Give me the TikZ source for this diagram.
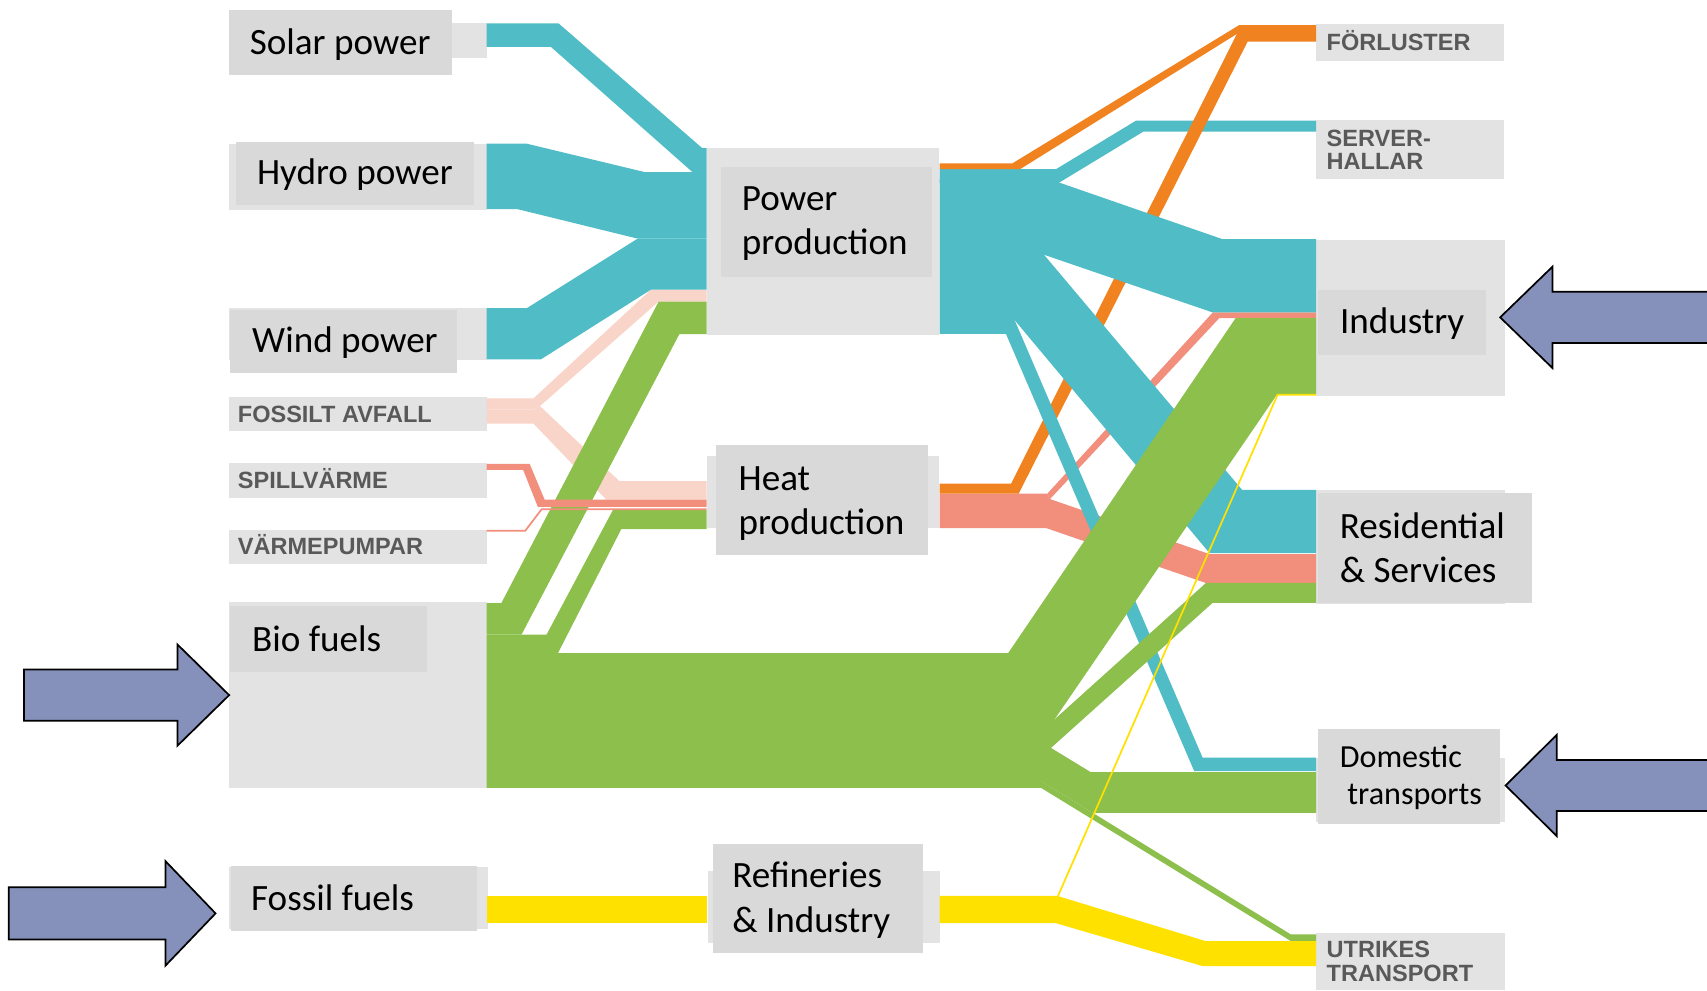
\documentclass[tikz,border=0pt]{standalone}
\usepackage{fontspec}
\setmainfont{Carlito}
\newfontfamily\capsfont{Liberation Sans}
\usetikzlibrary{fit}

\definecolor{elec}{HTML}{4FBCC6}
\definecolor{biogreen}{HTML}{8CBF4B}
\definecolor{lossorange}{HTML}{F08220}
\definecolor{warmsalmon}{HTML}{F28E7C}
\definecolor{wastepink}{HTML}{F9D4C8}
\definecolor{oilyellow}{HTML}{FFE100}
\definecolor{boxlight}{HTML}{E3E3E3}
\definecolor{boxdark}{HTML}{D9D9D9}
\definecolor{capsgray}{HTML}{595959}
\definecolor{arrowfill}{HTML}{8591BA}

\begin{document}
\begin{tikzpicture}[x=0.1mm,y=-0.1mm,
  elecflow/.style={fill=elec},
  bioflow/.style={fill=biogreen},
  lossflow/.style={fill=lossorange},
  warmflow/.style={fill=warmsalmon},
  wasteflow/.style={fill=wastepink},
  oilflow/.style={fill=oilyellow},
  ]
  \useasboundingbox (0,0) rectangle (1568,909.4);
  \clip (0,0) rectangle (1568,909.4);
  \begin{scope}[every node/.style={fill=boxlight,inner sep=0pt}]
    \node[fit={(415,21.4) (447,53.6)}] (padSolar) {};
    \node[fit={(210,132) (447,193)}] (padHydro) {};
    \node[fit={(210,283) (447,330.5)}] (padWind) {};
    \node[fit={(210,365) (447,396)}] (padAvfall) {};
    \node[fit={(210,425) (447,457)}] (padSpill) {};
    \node[fit={(210,486.5) (447,518)}] (padPump) {};
    \node[fit={(210,553) (447,724)}] (padBio) {};
    \node[fit={(210,796) (448,853)}] (padFossil) {};
    \node[fit={(649.3,136) (862.9,307.5)}] (padPower) {};
    \node[fit={(649.3,418.6) (862.9,485)}] (padHeat) {};
    \node[fit={(650,800) (863,866)}] (padRef) {};
    \node[fit={(1208.7,22) (1381.6,55.7)}] (padLoss) {};
    \node[fit={(1208.7,110) (1381.6,164.6)}] (padServer) {};
    \node[fit={(1209,220) (1382,364)}] (padInd) {};
    \node[fit={(1209,450) (1382,555)}] (padRes) {};
    \node[fit={(1209,696) (1382,755)}] (padDom) {};
    \node[fit={(1209,857) (1382,909.4)}] (padAbroad) {};
  \end{scope}
  \begin{scope}[every node/.style={fill=boxdark,inner sep=0pt}]
    \node[fit={(210.8,9.2) (415,68.9)}] (boxSolar) {};
    \node[fit={(217,130) (435,188)}] (boxHydro) {};
    \node[fit={(211,285) (420,343)}] (boxWind) {};
    \node[fit={(211,557) (392,617)}] (boxBio) {};
    \node[fit={(212,795) (438,855)}] (boxFossil) {};
    \node[fit={(661.9,153) (856.2,254)}] (boxPower) {};
    \node[fit={(657.9,408.5) (852.8,509.5)}] (boxHeat) {};
    \node[fit={(655,774.8) (848,875.8)}] (boxRef) {};
    \node[fit={(1211,266) (1365,326)}] (boxInd) {};
    \node[fit={(1211,453) (1407,554)}] (boxRes) {};
    \node[fit={(1211,669.5) (1378,757)}] (boxDom) {};
  \end{scope}
  \fill[wasteflow] (447,366) -- (490,366) -- (598,266) -- (649,266) -- (649,277) -- (605,277) -- (496,373) -- (490,376) -- (447,376) -- cycle;
  \fill[wasteflow] (447,376) -- (490,376) -- (496,373) -- (569,442) -- (649,442) -- (649,459) -- (557,459) -- (490,389) -- (447,389) -- cycle;
  \fill[bioflow] (447,554) -- (460.5,554) -- (605,277) -- (649,277) -- (649,307) -- (624,307) -- (479,583) -- (447,583) -- cycle;
  \fill[bioflow] (447,583) -- (502,583) -- (563,468.5) -- (649,468.5) -- (649,486) -- (570.7,486) -- (512.5,600) -- (447,600) -- cycle;
  \fill[warmflow] (447,426) -- (486.5,426) -- (500.3,459) -- (649,459) -- (649,465.5) -- (494,465.5) -- (480.5,431.5) -- (447,431.5) -- cycle;
  \draw[warmsalmon,line width=0.45pt] (447,487.5) -- (482.5,487.5) -- (497.5,467.8) -- (649,467.8);
  \fill[elecflow] (447,21.4) -- (513,21.4) -- (645,136) -- (649,136) -- (649,158) -- (636,158) -- (506,43) -- (447,43) -- cycle;
  \fill[elecflow] (447,132) -- (484,132) -- (592,158) -- (649,158) -- (649,219) -- (585,219) -- (475,192) -- (447,192) -- cycle;
  \fill[elecflow] (447,283) -- (484,283) -- (586,219) -- (649,219) -- (649,266) -- (598,266) -- (497,330) -- (447,330) -- cycle;
  \fill[warmflow] (863,453.5) -- (962,453.5) -- (964.5,458.4) -- (1111,509) -- (1209,509) -- (1209,535.5) -- (1107.7,535.5) -- (960.8,485) -- (863,485) -- cycle;
  \fill[warmflow] (962,453.5) -- (1114,287) -- (1209,287) -- (1209,292.2) -- (1120,292.2) -- (964.5,458.4) -- cycle;
  \fill[elecflow] (863,155.4) -- (970,155.4) -- (1043.5,110.8) -- (1209,110.8) -- (1209,121) -- (1050,121) -- (973,167.7) -- (863,167.7) -- cycle;
  \fill[lossflow] (863,150) -- (930,150) -- (1138.3,23) -- (1209,23) -- (1209,27.5) -- (1142,27.5) -- (937,155.4) -- (863,155.4) -- cycle;
  \fill[lossflow] (863,444.3) -- (928.7,444.3) -- (1138,27.5) -- (1209,27.5) -- (1209,38.3) -- (1146,38.3) -- (935.7,453.5) -- (863,453.5) -- cycle;
  \fill[elecflow] (863,165) -- (970,165) -- (973,167.7) -- (1123,219.7) -- (1209,219.7) -- (1209,287) -- (1114,287) -- (959,234) -- (863,234) -- cycle;
  \fill[elecflow] (863,234) -- (959,234) -- (1141,450) -- (1209,450) -- (1209,508) -- (1111,508) -- (932,294) -- (863,294) -- cycle;
  \fill[elecflow] (863,294) -- (932,294) -- (1104.7,696) -- (1209,696) -- (1209,708.4) -- (1097,708.4) -- (924,306.6) -- (863,306.6) -- cycle;
  \fill[bioflow] (447,600) -- (926,600) -- (1135,292.2) -- (1209,292.2) -- (1209,361.7) -- (1173.5,361.7) -- (962.7,669.5) -- (447,669.5) -- cycle;
  \fill[bioflow] (447,669.5) -- (959,669.5) -- (1107.7,535.5) -- (1209,535.5) -- (1209,553.8) -- (1113.8,553.8) -- (965.4,687) -- (447,687) -- cycle;
  \fill[bioflow] (447,687) -- (965.4,687) -- (1002,709.3) -- (1209,709.3) -- (1209,746.6) -- (1003.7,746.6) -- (956.3,717.5) -- (447,717.5) -- cycle;
  \fill[bioflow] (447,717.5) -- (956.3,717.5) -- (1185.7,858.3) -- (1209,858.3) -- (1209,864.4) -- (1185.7,864.4) -- (956.3,723.7) -- (447,723.7) -- cycle;
  \fill[oilflow] (447,823) rectangle (649,848);
  \fill[oilflow] (863,823) -- (971.5,823) -- (1107.7,864.5) -- (1209,864.5) -- (1209,887.4) -- (1104.6,887.4) -- (970,848) -- (863,848) -- cycle;
  \draw[oilyellow,line width=0.45pt] (971.5,823.8) -- (1173.5,362.6) -- (1209,362.6);
  \begin{scope}[every node/.style={anchor=base west,inner sep=0pt,align=left,
      font=\fontsize{9.7}{11.55}\selectfont}]
    \node (txtSolar) at (228.8,50.5) {Solar power};
    \node (txtHydro) at (235.4,169.8) {Hydro power};
    \node (txtWind) at (231,323.7) {Wind power};
    \node (txtBio) at (231,598.2) {Bio fuels};
    \node (txtFossil) at (230,836) {Fossil fuels};
    \node (txtPower) at (680.8,234.1) {Power\\production};
    \node (txtHeat) at (677.8,491.1) {Heat\\production};
    \node (txtRef) at (672,856.2) {Refineries\\\& Industry};
    \node (txtInd) at (1230.2,306) {Industry};
    \node (txtRes) at (1230,534.9) {Residential\\\& Services};
    \node[font=\fontsize{8.4}{9.6}\selectfont] (txtDom) at (1230,739) {Domestic\\\hspace*{0.7mm}transports};
  \end{scope}
  \begin{scope}[every node/.style={anchor=base west,inner sep=0pt,align=left,
      text=capsgray,font=\capsfont\bfseries\fontsize{6.15}{6.1}\selectfont}]
    \node (txtAvfall) at (217.8,388) {FOSSILT AVFALL};
    \node (txtSpill) at (217.8,448.3) {SPILLVÄRME};
    \node (txtPump) at (217.8,509.5) {VÄRMEPUMPAR};
    \node (txtLoss) at (1218,46.5) {FÖRLUSTER};
    \node (txtServer) at (1218,156) {SERVER-\\HALLAR};
    \node (txtAbroad) at (1218,901.2) {UTRIKES\\TRANSPORT};
  \end{scope}
  \begin{scope}[every path/.style={fill=arrowfill,draw=black,line width=0.45pt}]
    \path (22,615) -- (163,615) -- (163,592) -- (210.5,638.5) -- (163,685) -- (163,662) -- (22,662) -- cycle;
    \path (8,815) -- (152,815) -- (152,791) -- (198,839) -- (152,887) -- (152,863) -- (8,863) -- cycle;
    \path (1600,268) -- (1426,268) -- (1426,245) -- (1378,291.5) -- (1426,338) -- (1426,315) -- (1600,315) -- cycle;
    \path (1600,698) -- (1430,698) -- (1430,675) -- (1383,721.5) -- (1430,768) -- (1430,745) -- (1600,745) -- cycle;
  \end{scope}
\end{tikzpicture}
\end{document}
